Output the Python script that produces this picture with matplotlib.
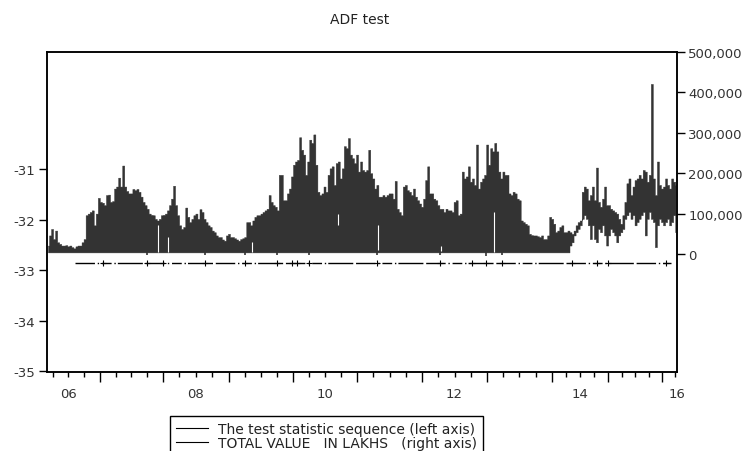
import numpy as np
import matplotlib
matplotlib.use("Agg")
import matplotlib.pyplot as plt
from matplotlib.lines import Line2D
from matplotlib.ticker import FuncFormatter
from matplotlib.transforms import blended_transform_factory

plt.rcParams['font.family'] = ['DejaVu Sans']
plt.rcParams['axes.unicode_minus'] = False

# x axis is the observation number (trading days, Feb 2006 .. Apr 2016)
n_obs = 2480
years = [2006, 2007, 2008, 2009, 2010, 2011, 2012, 2013, 2014, 2015, 2016, 2017]
year_start_obs = [-40, 209, 456, 716, 968, 1220, 1476, 1731, 1987, 2208, 2420, 2632]
year_labels = {2006: '06', 2008: '08', 2010: '10', 2012: '12', 2014: '14', 2016: '16'}

# TOTAL VALUE IN LAKHS (thousands), upper / lower envelope every 8 obs
tv_step = 8
tv_high = [21, 46, 62, 37, 58, 29, 25, 21, 21, 22,
           19, 21, 17, 14, 19, 21, 21, 29, 37, 96,
           100, 104, 108, 71, 100, 139, 129, 127, 121, 146,
           147, 129, 131, 162, 167, 189, 167, 219, 167, 156,
           150, 150, 161, 158, 161, 154, 142, 129, 121, 112,
           100, 97, 96, 87, 83, 87, 96, 97, 100, 108,
           121, 137, 169, 121, 96, 71, 62, 67, 115, 92,
           79, 87, 96, 100, 87, 111, 104, 87, 79, 71,
           67, 58, 54, 46, 42, 42, 36, 33, 46, 50,
           42, 42, 39, 36, 33, 37, 39, 42, 79, 79,
           71, 83, 92, 96, 96, 100, 104, 108, 112, 146,
           129, 121, 117, 108, 196, 196, 133, 133, 150, 162,
           192, 221, 229, 233, 289, 258, 246, 196, 229, 283,
           275, 296, 221, 154, 146, 150, 167, 154, 196, 212,
           217, 171, 225, 229, 187, 212, 267, 262, 287, 246,
           237, 225, 246, 204, 229, 208, 204, 208, 258, 200,
           187, 162, 171, 142, 142, 146, 142, 146, 150, 150,
           137, 181, 112, 104, 96, 167, 171, 158, 154, 146,
           162, 142, 133, 125, 117, 137, 183, 217, 150, 150,
           137, 133, 121, 112, 112, 104, 112, 108, 108, 104,
           129, 133, 96, 100, 204, 187, 192, 217, 179, 187,
           171, 271, 162, 179, 187, 196, 271, 221, 262, 254,
           275, 254, 204, 187, 204, 196, 196, 150, 146, 154,
           150, 137, 133, 83, 79, 75, 71, 50, 47, 46,
           46, 44, 42, 46, 37, 37, 46, 92, 87, 75,
           54, 58, 67, 71, 54, 54, 58, 54, 50, 58,
           71, 79, 83, 154, 167, 162, 133, 146, 167, 133,
           214, 129, 117, 137, 167, 121, 121, 112, 108, 104,
           100, 87, 75, 96, 129, 175, 187, 146, 167, 183,
           187, 196, 187, 208, 204, 179, 196, 421, 187, 146,
           229, 171, 162, 167, 187, 171, 162, 187, 179, 171]
tv_low = [4] * 257 + [
    21, 29, 46, 54, 62, 71, 87, 96, 87, 71,
    37, 71, 37, 29, 62, 54, 71, 46, 21, 46,
    62, 54, 46, 29, 46, 54, 62, 87, 96, 104,
    87, 96, 71, 79, 87, 96, 104, 46, 87, 104,
    87, 79, 17, 71, 87, 79, 71, 79, 87, 71,
    79, 96, 54]

# short drops of the series inside the dark block (obs, from, to) in thousands
gap_obs = [435, 477, 805, 1147, 1301, 1552, 1757]
gap_lo = [4, 4, 4, 73, 11, 8, 4]
gap_hi = [71, 42, 29, 100, 73, 21, 104]
dip_obs = [394, 622, 779, 905, 1031, 1299, 1547, 1727, 1790]
dip_val = [-3, -3, -3, -3, -3, -2, -3, -4, -3]

# test statistic sequence (left axis)
ts_obs = [110, 2455]
ts_val = [-32.86, -32.86]
ts_plus_obs = [220, 394, 456, 622, 779, 905, 964, 984, 1031, 1299, 1547,
               1672, 1727, 1790, 2066, 2164, 2208, 2436]

fig = plt.figure(figsize=(7.53, 4.52), dpi=100)
fig.subplots_adjust(left=47/753, right=677/753, top=1-53/452, bottom=1-373/452)
ax = fig.add_subplot(111)
ax2 = ax.twinx()

dark = '#333333'
x = tv_step / 2 + tv_step * np.arange(len(tv_high))
ax2.fill_between(x, np.array(tv_low) * 1000, np.array(tv_high) * 1000,
                 step='mid', color=dark, lw=0.3)
ax2.vlines(gap_obs, np.array(gap_lo) * 1000, np.array(gap_hi) * 1000,
           colors='white', lw=0.8)
ax2.vlines(dip_obs, np.array(dip_val) * 1000, 4000, colors=dark, lw=1.2)

ax.plot(ts_obs, ts_val, color='black', lw=1.0,
        linestyle=(0, (14, 2, 1, 2, 7, 2, 1, 1.5, 18, 2)))
ax.plot(ts_plus_obs, [ts_val[0]] * len(ts_plus_obs), '+', color='black',
        ms=4, mew=0.8)

ax.set_xlim(0, n_obs - 1)
ax.set_ylim(-35.01, -28.69)
ax2.set_ylim(-292000, 500000)
ax.set_yticks([-35, -34, -33, -32, -31])
ax2.set_yticks([0, 100000, 200000, 300000, 400000, 500000])
ax2.yaxis.set_major_formatter(FuncFormatter(lambda v, p: f'{v:,.0f}'))

major = [s for s in year_start_obs if 0 <= s <= n_obs - 1]
minor = []
for a, b in zip(year_start_obs[:-1], year_start_obs[1:]):
    for q in (1, 2, 3):
        t = a + (b - a) * q / 4
        if 0 <= t <= n_obs - 1:
            minor.append(t)
ax.set_xticks(major)
ax.set_xticks(minor, minor=True)
ax.tick_params(axis='x', which='major', direction='out', length=7, width=1,
               labelbottom=False)
ax.tick_params(axis='x', which='minor', direction='out', length=3.6, width=1)
ax.tick_params(axis='y', direction='out', length=5.5, width=1, pad=3,
               labelsize=9.5, labelcolor='#333333')
ax2.tick_params(axis='y', direction='out', length=5.5, width=1, pad=2.5,
                labelsize=9.5, labelcolor='#333333')

trans = blended_transform_factory(ax.transData, ax.transAxes)
for i, yr in enumerate(years[:-1]):
    if yr in year_labels:
        c = (year_start_obs[i] + year_start_obs[i + 1]) / 2
        c = min(max(c, 0), n_obs - 1)
        ax.text(c, -0.047, year_labels[yr], transform=trans, ha='center',
                va='top', fontsize=9.5, color='#333333')

for a in (ax, ax2):
    for s in a.spines.values():
        s.set_linewidth(1.1)

fig.text(0.478, 1 - 20/452, 'ADF test', ha='center', va='center',
         fontsize=10, color='#222222')

handles = [Line2D([], [], color='black', lw=0.8),
           Line2D([], [], color='black', lw=0.8)]
labels = ['The test statistic sequence (left axis)',
          'TOTAL VALUE   IN LAKHS   (right axis)']
leg = fig.legend(handles, labels, loc='upper left',
                 bbox_to_anchor=(170/753, 1 - 417/452), borderaxespad=0,
                 fontsize=10, frameon=True, fancybox=False, framealpha=1,
                 edgecolor='black', handlelength=2.3, handletextpad=0.7,
                 labelspacing=0.0, borderpad=0.45)
leg.get_frame().set_linewidth(1.0)
for t in leg.get_texts():
    t.set_color('#222222')

fig.savefig('out.png', dpi=100)
